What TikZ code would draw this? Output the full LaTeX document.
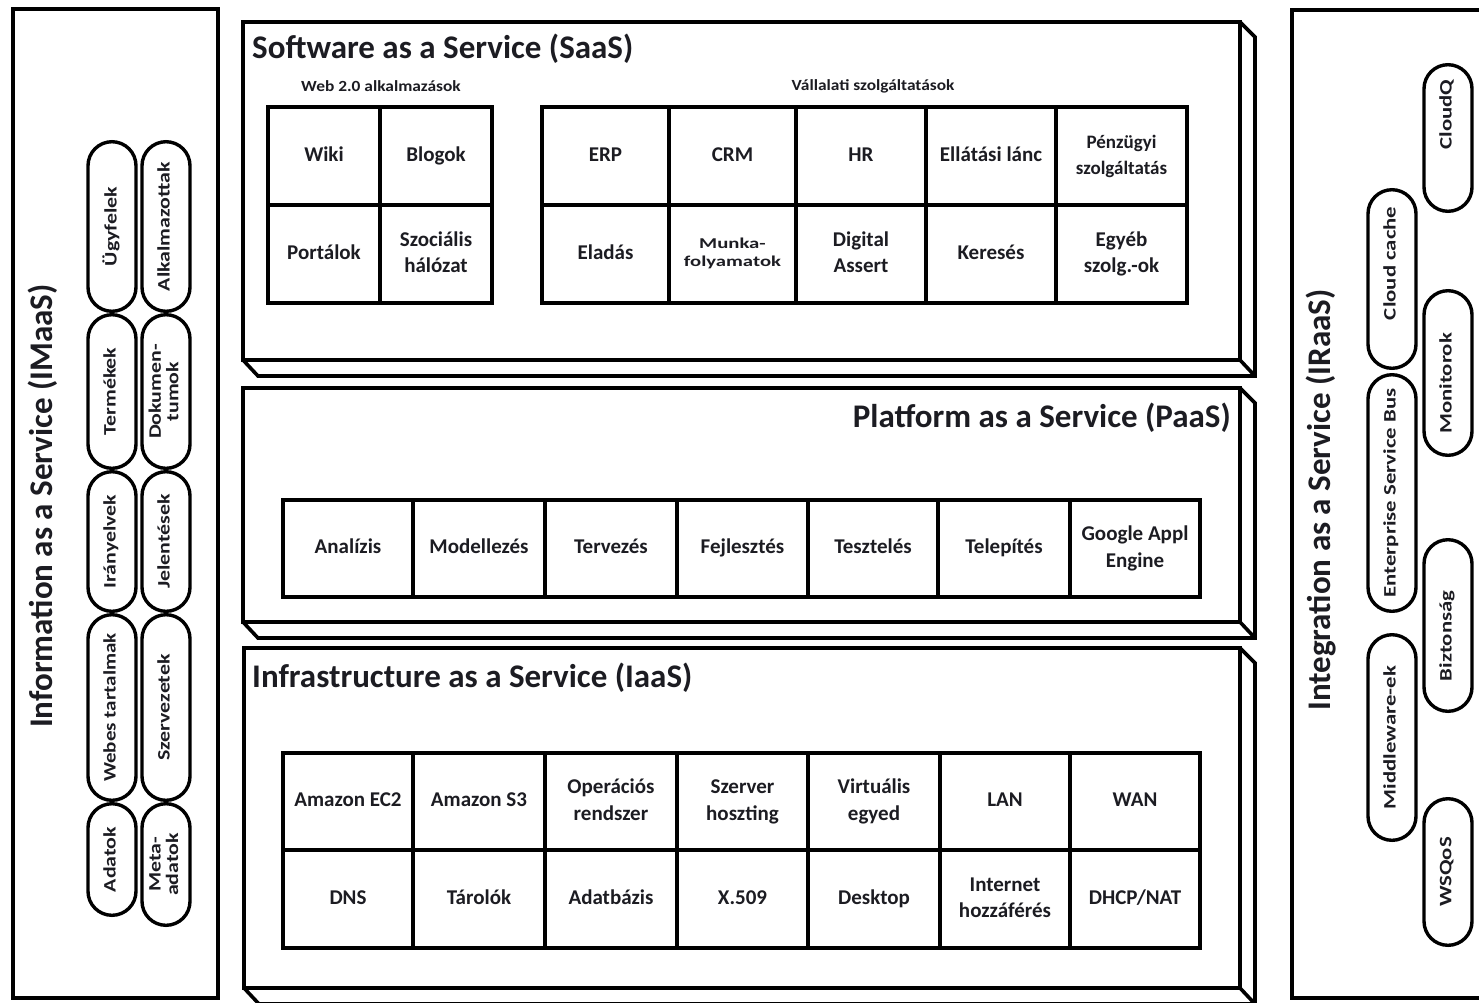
\documentclass[tikz,border=0pt]{standalone}
\usepackage{fontspec}
\setmainfont{Carlito}
\usepackage{graphicx}

\definecolor{ink}{HTML}{1C1C22}

% fonts
\newcommand\titlefont{\fontsize{33}{40}\selectfont\bfseries}
\newcommand\cellfont{\fontsize{21}{26.5}\selectfont\bfseries}
\newcommand\smallcellfont{\fontsize{15}{18}\selectfont\bfseries}
\newcommand\headfont{\fontsize{15.5}{18}\selectfont\bfseries}
\newcommand\pillfont{\fontsize{17.5}{17}\selectfont\bfseries}
\newcommand\stretchx[2]{\scalebox{#1}[1]{#2}}
\newcommand\twolines[2]{\begin{tabular}{@{}c@{}}#1\\#2\end{tabular}}

% one table cell given by its corners
\newcommand\gridcell[6]{%
  \node[cell, minimum width={(#4)-(#2)}, minimum height={(#5)-(#3)}]
    (#1) at ({((#2)+(#4))/2},{((#3)+(#5))/2}) {\strut#6\strut};}
% one vertical pill given by its centre line and its ends
\newcommand\pillat[5]{%
  \node[pill, minimum width={(#4)-(#3)-3.4}]
    (#1) at (#2,{((#3)+(#4))/2}) {\strut#5};}

\begin{document}
\begin{tikzpicture}[x=1pt, y=-1pt,
  frame/.style={line width=3.6pt, line join=miter, line cap=round},
  cell/.style={draw, line width=3.4pt, inner sep=0pt, align=center,
    text=ink, font=\cellfont},
  pill/.style={draw, fill=white, line width=3.4pt, rounded corners=24pt,
    inner sep=0pt, rotate=90, minimum height=48pt, font=\pillfont, text=ink},
  title/.style={inner sep=0pt, font=\titlefont, text=ink},
  head/.style={inner sep=0pt, font=\headfont, text=ink}]

\useasboundingbox[fill=white] (0,0) rectangle (1479,1002);
\clip (0,0) rectangle (1479,1002);

% ---------- side panels ----------
\draw[frame] (13,9) rectangle (218,998);
\draw[frame] (1520,10) -- (1292,10) -- (1292,998) -- (1520,998);

% ---------- three service layers (slabs with depth) ----------
% SaaS
\draw[frame] (243,22) rectangle (1240,360);
\draw[frame] (1240,22) -- (1255,37) -- (1255,376) -- (258,376) -- (243,360);
\draw[frame] (1240,360) -- (1255,376);
% PaaS
\draw[frame] (243,388) rectangle (1240,622);
\draw[frame] (1240,388) -- (1255,403) -- (1255,638) -- (258,638) -- (243,622);
\draw[frame] (1240,622) -- (1255,638);
% IaaS
\draw[frame] (244,648) rectangle (1240,988);
\draw[frame] (1240,648) -- (1255,663) -- (1255,1004) -- (259,1004) -- (244,988);
\draw[frame] (1240,988) -- (1255,1004);

% ---------- titles ----------
\node[title, anchor=base west] (saas) at (252,58) {Software as a Service (SaaS)};
\node[title, anchor=base east] (paas) at (1231,427) {Platform as a Service (PaaS)};
\node[title, anchor=base west] (iaas) at (252,687) {Infrastructure as a Service (IaaS)};
\node[title, rotate=90] (imaas) at (43,506) {Information as a Service (IMaaS)};
\node[title, rotate=90] (iraas) at (1321,500) {Integration as a Service (IRaaS)};

% ---------- SaaS ----------
\node[head] (web20) at (381,86) {\stretchx{1.12}{Web 2.0 alkalmazások}};
\node[head] (vallalati) at (873,86) {\stretchx{1.12}{Vállalati szolgáltatások}};

\gridcell{wiki}{268}{107}{380}{205}{Wiki}
\gridcell{blogok}{380}{107}{492}{205}{Blogok}
\gridcell{portalok}{268}{205}{380}{303}{Portálok}
\gridcell{szocialis}{380}{205}{492}{303}{Szociális\\hálózat}

\gridcell{erp}{542}{107}{669}{205}{ERP}
\gridcell{crm}{669}{107}{796}{205}{CRM}
\gridcell{hr}{796}{107}{926}{205}{HR}
\gridcell{ellatasi}{926}{107}{1056}{205}{Ellátási lánc}
\gridcell{penzugyi}{1056}{107}{1187}{205}{\fontsize{19}{26}\selectfont Pénzügyi\\\fontsize{19}{26}\selectfont szolgáltatás}
\gridcell{eladas}{542}{205}{669}{303}{Eladás}
\gridcell{munka}{669}{205}{796}{303}{\smallcellfont\stretchx{1.38}{\twolines{Munka-}{folyamatok}}}
\gridcell{digital}{796}{205}{926}{303}{Digital\\Assert}
\gridcell{kereses}{926}{205}{1056}{303}{Keresés}
\gridcell{egyeb}{1056}{205}{1187}{303}{Egyéb\\szolg.-ok}

% ---------- PaaS ----------
\gridcell{analizis}{283}{500}{413}{597}{Analízis}
\gridcell{modellezes}{413}{500}{545}{597}{Modellezés}
\gridcell{tervezes}{545}{500}{677}{597}{Tervezés}
\gridcell{fejlesztes}{677}{500}{808}{597}{Fejlesztés}
\gridcell{teszteles}{808}{500}{938}{597}{Tesztelés}
\gridcell{telepites}{938}{500}{1070}{597}{Telepítés}
\gridcell{google}{1070}{500}{1200}{597}{Google Appl\\Engine}

% ---------- IaaS ----------
\gridcell{ec2}{283}{753}{413}{850}{Amazon EC2}
\gridcell{s3}{413}{753}{545}{850}{Amazon S3}
\gridcell{oprendszer}{545}{753}{677}{850}{Operációs\\rendszer}
\gridcell{szerver}{677}{753}{808}{850}{Szerver\\hoszting}
\gridcell{virtualis}{808}{753}{940}{850}{Virtuális\\egyed}
\gridcell{lan}{940}{753}{1070}{850}{LAN}
\gridcell{wan}{1070}{753}{1200}{850}{WAN}
\gridcell{dns}{283}{850}{413}{948}{DNS}
\gridcell{tarolok}{413}{850}{545}{948}{Tárolók}
\gridcell{adatbazis}{545}{850}{677}{948}{Adatbázis}
\gridcell{x509}{677}{850}{808}{948}{X.509}
\gridcell{desktop}{808}{850}{940}{948}{Desktop}
\gridcell{internet}{940}{850}{1070}{948}{Internet\\hozzáférés}
\gridcell{dhcp}{1070}{850}{1200}{948}{DHCP/NAT}

% ---------- IMaaS pills ----------
\pillat{ugyfelek}{112}{140}{313}{\stretchx{1.25}{Ügyfelek}}
\pillat{termekek}{112}{313}{470}{\stretchx{1.25}{Termékek}}
\pillat{iranyelvek}{112}{470}{613}{\stretchx{1.25}{Irányelvek}}
\pillat{webes}{112}{613}{802}{\stretchx{1.2}{Webes tartalmak}}
\pillat{adatok}{112}{802}{917}{\stretchx{1.25}{Adatok}}
\pillat{alkalmazottak}{166}{140}{313}{\stretchx{1.25}{Alkalmazottak}}
\pillat{dokumentumok}{166}{313}{470}{\stretchx{1.25}{\twolines{Dokumen-}{tumok}}}
\pillat{jelentesek}{166}{470}{613}{\stretchx{1.25}{Jelentések}}
\pillat{szervezetek}{166}{613}{802}{\stretchx{1.25}{Szervezetek}}
\pillat{metaadatok}{166}{802}{927}{\stretchx{1.25}{\twolines{Meta-}{adatok}}}

% ---------- IRaaS pills ----------
\pillat{cloudcache}{1392}{188}{370}{\stretchx{1.3}{\hspace{24pt}Cloud cache}}
\pillat{esb}{1392}{373}{613}{\stretchx{1.3}{Enterprise Service Bus}}
\pillat{middleware}{1392}{633}{842}{\stretchx{1.3}{Middleware-ek}}
\pillat{cloudq}{1448}{63}{213}{\stretchx{1.3}{\hspace{36pt}CloudQ}}
\pillat{monitorok}{1448}{289}{457}{\stretchx{1.3}{Monitorok\hspace{16pt}}}
\pillat{biztonsag}{1448}{538}{713}{\stretchx{1.3}{Biztonság\hspace{16pt}}}
\pillat{wsqos}{1448}{797}{947}{\stretchx{1.3}{WSQoS}}

\end{tikzpicture}
\end{document}
